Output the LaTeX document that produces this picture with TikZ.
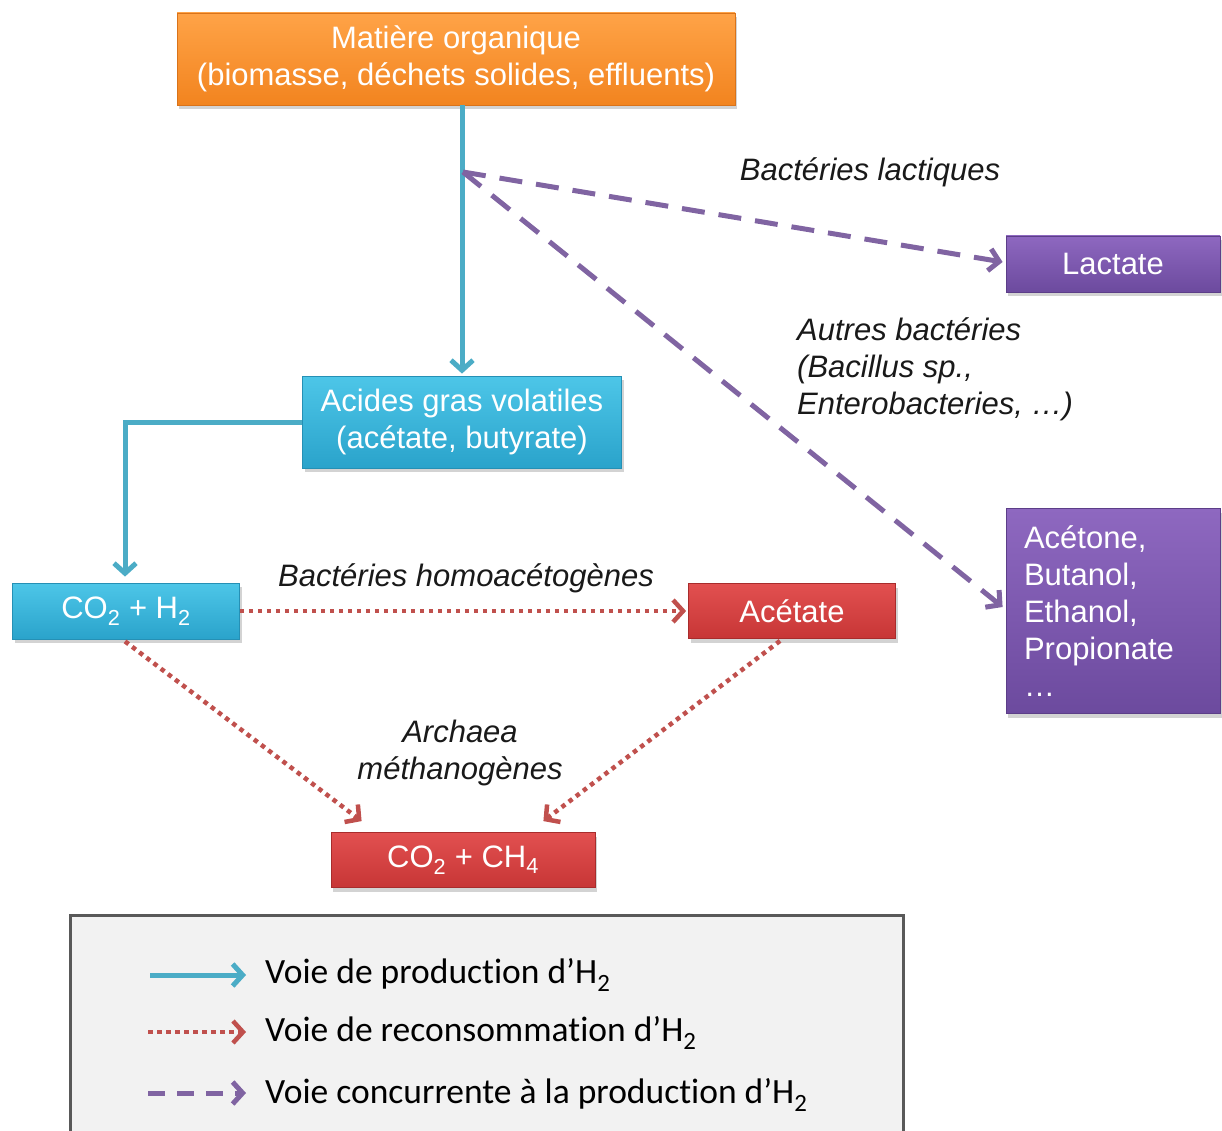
\documentclass[tikz,border=0pt]{standalone}
\usepackage{fontspec}
\setmainfont{Liberation Sans}
\newfontfamily\calib[Ligatures=NoCommon]{Carlito}
\usetikzlibrary{arrows.meta,shadows,calc}
\definecolor{orT}{HTML}{FFA347}\definecolor{orB}{HTML}{F2841F}\definecolor{orD}{HTML}{D9731A}
\definecolor{blT}{HTML}{4DC6E8}\definecolor{blB}{HTML}{2AA3CB}\definecolor{blD}{HTML}{2590B5}
\definecolor{rdT}{HTML}{E25050}\definecolor{rdB}{HTML}{C73636}\definecolor{rdD}{HTML}{A82C2C}
\definecolor{puT}{HTML}{8E68C0}\definecolor{puB}{HTML}{6C4A9E}\definecolor{puD}{HTML}{5C3E88}
\definecolor{arB}{HTML}{4BACC6}\definecolor{arR}{HTML}{C0504D}\definecolor{arP}{HTML}{8064A2}
\begin{document}
\begin{tikzpicture}[x=1pt,y=-1pt,
  box/.style n args={3}{rectangle, top color=#1, bottom color=#2, draw=#3, line width=0.8pt,
    text=white, font=\fontsize{31}{37}\selectfont, align=center, inner sep=0pt,
    drop shadow={opacity=0.35,shadow xshift=2pt,shadow yshift=-4pt}},
  orbox/.style={box={orT}{orB}{orD}},
  blbox/.style={box={blT}{blB}{blD}},
  rdbox/.style={box={rdT}{rdB}{rdD}},
  pubox/.style={box={puT}{puB}{puD}},
  tip/.style={-{Straight Barb[length=10pt,width=22pt]}},
  prodarr/.style={tip, draw=arB, line width=5pt},
  recarr/.style={tip, draw=arR, line width=4.5pt, dash pattern=on 4.5pt off 4.5pt},
  conarr/.style={tip, draw=arP, line width=5pt, dash pattern=on 23pt off 14pt},
  lab/.style={font=\fontsize{31}{37}\selectfont\itshape, text=black!90, inner sep=0pt},
  legtxt/.style={font=\calib\fontsize{35.5}{42}\selectfont, text=black, inner sep=0pt, anchor=west}
]
\useasboundingbox (0,0) rectangle (1222,1131);
\clip (0,0) rectangle (1222,1131);

% boxes
\node[orbox, minimum width=558pt, minimum height=92pt] (org) at (456,59)
  {Matière organique\\(biomasse, déchets solides, effluents)};
\node[blbox, minimum width=319pt, minimum height=92pt] (agv) at (462,422)
  {Acides gras volatiles\\(acétate, butyrate)};
\node[blbox, minimum width=227pt, minimum height=56pt] (coh) at (126,611)
  {CO\textsubscript{2} + H\textsubscript{2}};
\node[rdbox, minimum width=207pt, minimum height=55pt] (act) at (792,611) {Acétate};
\node[rdbox, minimum width=264pt, minimum height=55pt] (ch4) at (463,860)
  {CO\textsubscript{2} + CH\textsubscript{4}};
\node[pubox, minimum width=214pt, minimum height=56pt] (lac) at (1113,264) {Lactate};
\node[pubox, minimum width=214pt, minimum height=205pt, text width=178pt, align=left] (oth) at (1113,611)
  {Acétone,\\Butanol,\\Ethanol,\\Propionate\\…};

% labels
\node[lab] (l1) at (870,172) {Bactéries lactiques};
\node[lab, align=left, anchor=west] (l2) at (797,369) {Autres bactéries\\(Bacillus sp.,\\Enterobacteries, …)};
\node[lab] (l3) at (466,578) {Bactéries homoacétogènes};
\node[lab, align=center] (l4) at (460,753) {Archaea\\méthanogènes};

% production arrows
\draw[prodarr] (org.south -| agv.north) -- ($(agv.north)+(0,-2)$);
\draw[prodarr] (agv.west) -| ($(coh.north)+(-1,-6)$);

% competing arrows
\coordinate (j) at (463,172);
\draw[conarr] (j) -- ($(lac.west)+(-3,-2)$);
\draw[conarr] (j) -- ($(oth.west)+(-3,-4)$);

% reconsumption arrows
\draw[recarr] (coh.east) -- ($(act.west)+(-2,0)$);
\draw[recarr] ($(coh.south)+(-1,2)$) -- ($(ch4.north west)+(31,-11)$);
\draw[recarr] ($(act.south)+(-12,2)$) -- ($(ch4.north east)+(-52,-11)$);

% legend
\node[draw=black!65, fill=black!5, line width=3pt, minimum width=833pt, minimum height=240pt, inner sep=0pt,
  drop shadow={opacity=0.25,shadow xshift=2pt,shadow yshift=-3pt}] (leg) at (486.5,1035) {};
\coordinate (a1s) at (150,975); \coordinate (a1e) at (246,975);
\coordinate (a2s) at (148,1032); \coordinate (a2e) at (246,1032);
\coordinate (a3s) at (148,1093); \coordinate (a3e) at (246,1093);
\draw[prodarr] (a1s) -- (a1e);
\draw[recarr] (a2s) -- (a2e);
\draw[conarr, dash pattern=on 17pt off 12pt] (a3s) -- (a3e);
\node[legtxt] (t1) at (265,975) {Voie de production d’H\textsubscript{2}};
\node[legtxt] (t2) at (265,1033) {Voie de reconsommation d’H\textsubscript{2}};
\node[legtxt] (t3) at (265,1095) {Voie concurrente à la production d’H\textsubscript{2}};
\end{tikzpicture}
\end{document}
